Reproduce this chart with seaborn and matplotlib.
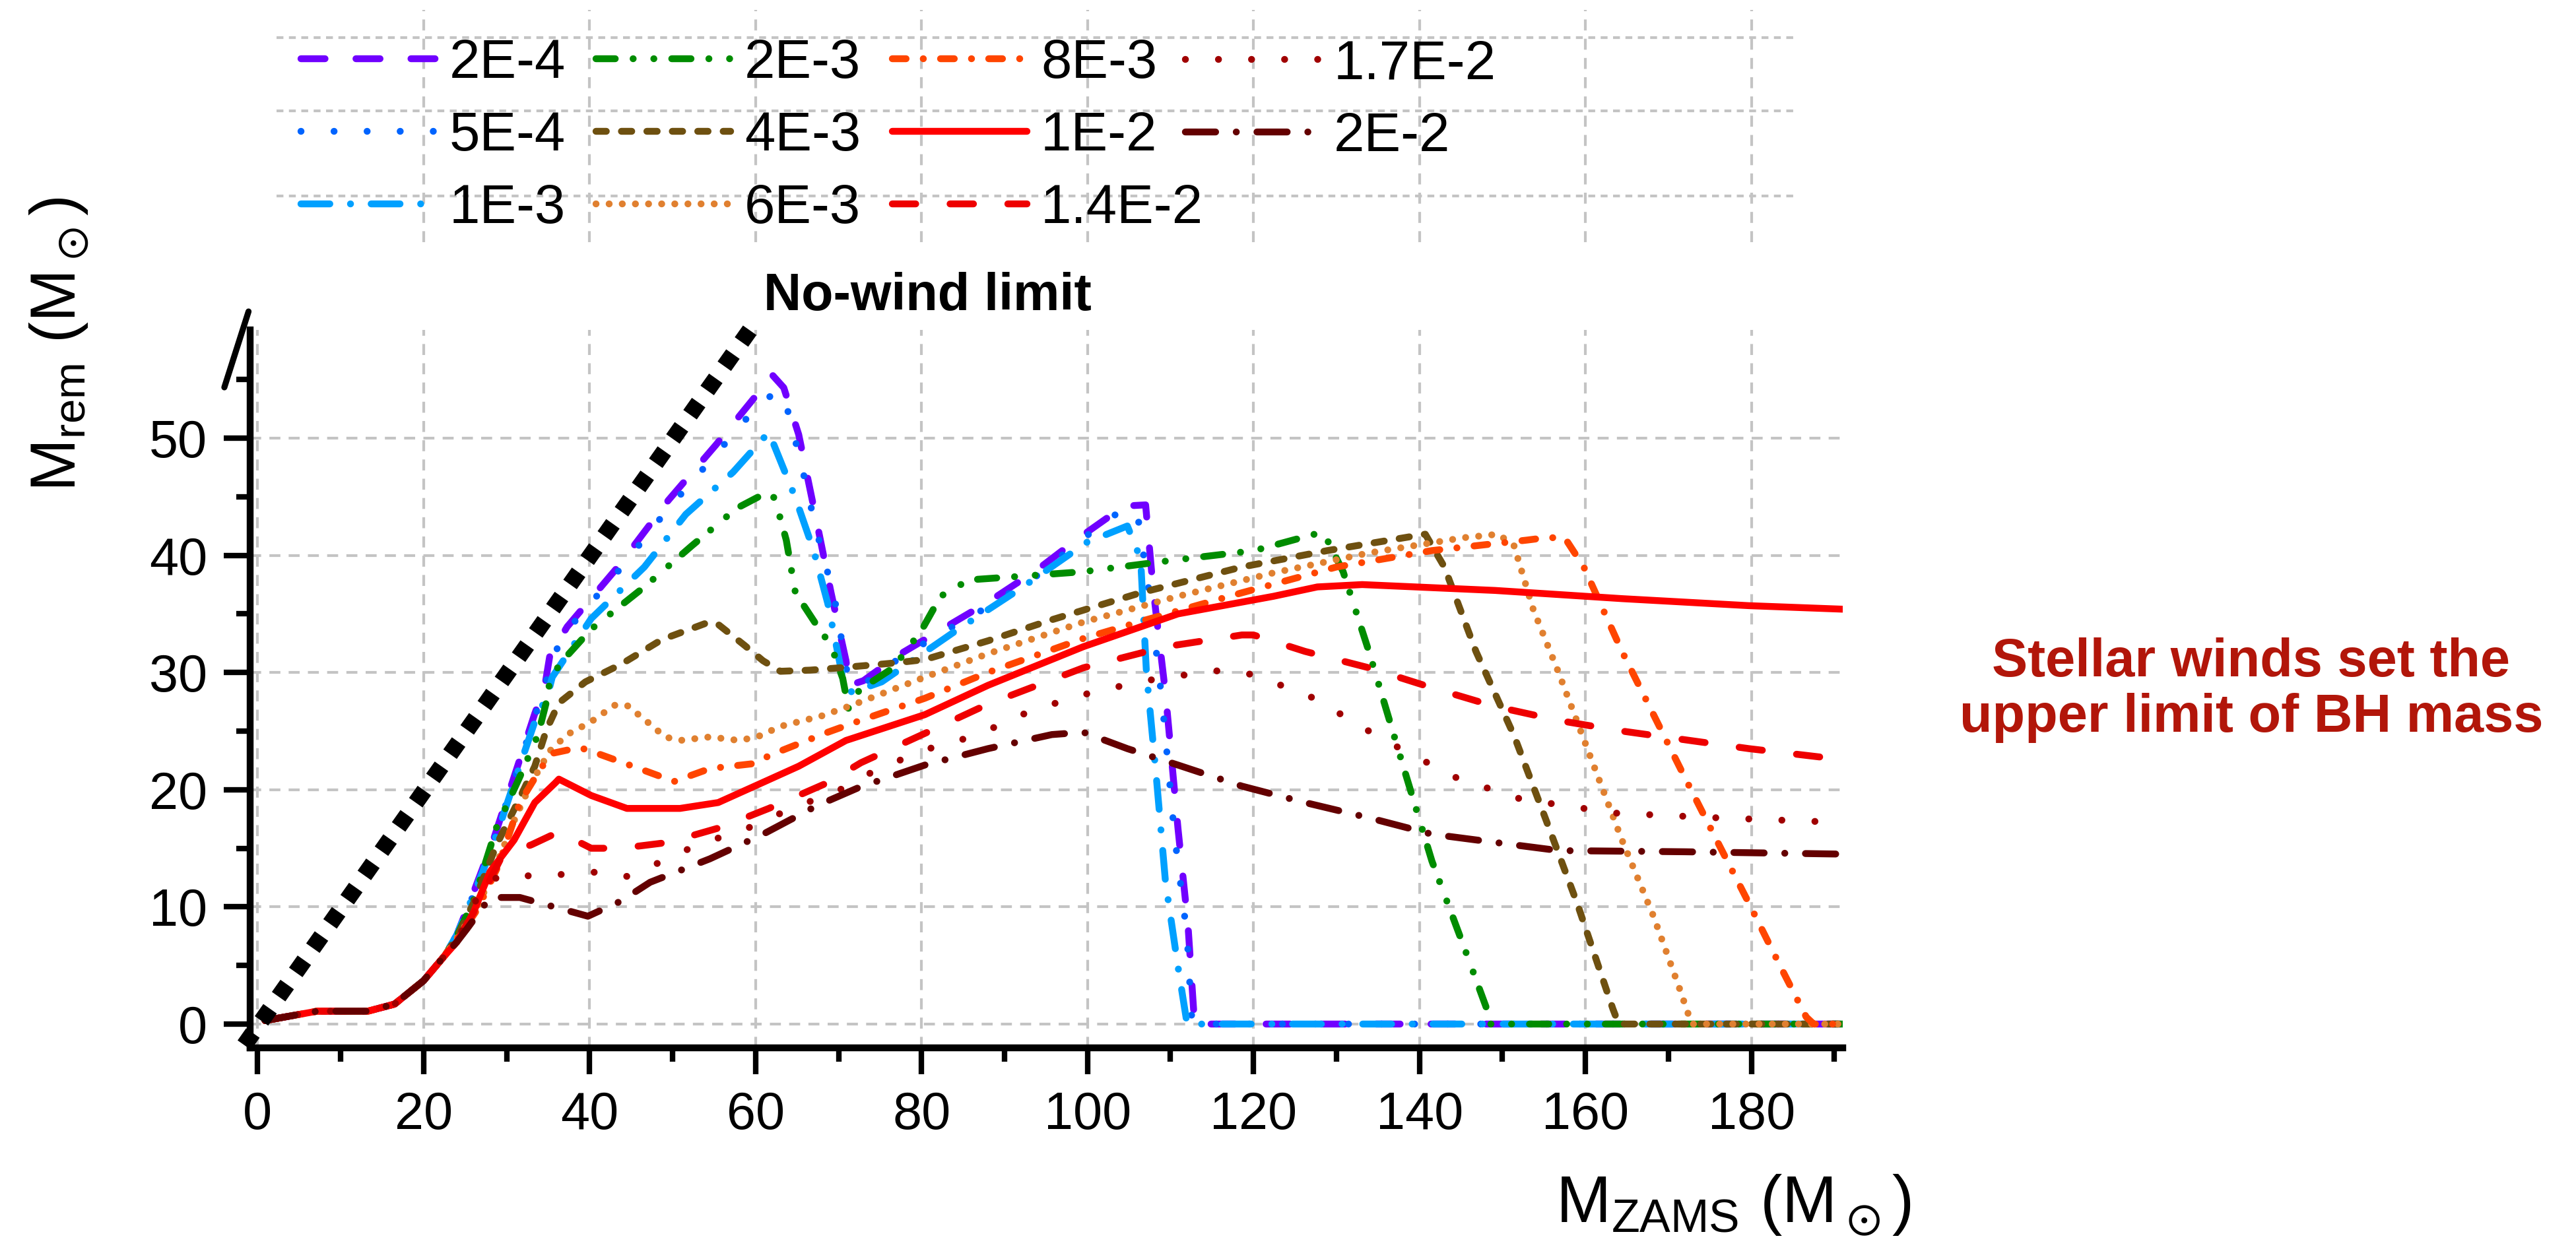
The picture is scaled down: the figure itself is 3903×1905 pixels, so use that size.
import matplotlib
matplotlib.use("Agg")
import matplotlib.pyplot as plt
from matplotlib.ticker import MultipleLocator
from matplotlib.lines import Line2D
import numpy as np
import pandas as pd
import seaborn as sns

sns.set_theme(style="white")
plt.rcParams["font.family"] = ["Liberation Sans", "DejaVu Sans"]
plt.rcParams["mathtext.default"] = "regular"

# metallicity labels, legend order (column-major)
z_labels = ["2E-4", "5E-4", "1E-3", "2E-3", "4E-3", "6E-3",
            "8E-3", "1E-2", "1.4E-2", "1.7E-2", "2E-2"]

colors = ["#7000ff", "#0064ff", "#00a0ff", "#008c00", "#6e5010", "#e08030",
          "#ff4500", "#ff0000", "#ee0000", "#a00000", "#640000"]

dash_styles = [(3.5, 4.5), (0.01, 4.8), (4.2, 3.0, 0.01, 3.0),
               (2.8, 2.6, 0.01, 3.0, 0.01, 2.6), (1.5, 2.2), (0.01, 1.9),
               (2.0, 2.5, 0.01, 2.5), "", (3.4, 5.0), (0.01, 4.8),
               (4.4, 3.0, 0.01, 3.0)]

# shared low-mass part of every track
head_x = [0.9, 7.2, 13.3, 16.5, 20.0, 22.5]
head_y = [0.3, 1.1, 1.1, 1.7, 3.7, 5.8]

x_2e4 = [24, 26, 28.4, 31, 33.4, 34.6, 35.2, 37.3, 43.4, 49.5, 55.2, 59.8, 62, 63.4, 65.2,
         67.3, 69.1, 70.9, 71.3, 73, 77.5, 82.5, 88, 94, 99, 104.4, 107, 107.9, 109.4,
         110.9, 112.1, 112.9, 191]
y_2e4 = [7.6, 11.2, 15.7, 21.3, 26.5, 28.8, 31.4, 33.9, 39.0, 44.7, 49.4, 53.4, 55.4, 54.3,
         50.3, 43.1, 36.8, 31.0, 28.9, 29.3, 31.6, 33.7, 36.0, 38.8, 41.5, 44.2, 44.3, 37.2,
         28.2, 16.7, 8.5, 0.0, 0.0]

x_5e4 = [24, 26, 28.4, 31, 33.4, 34.6, 35.3, 37.3, 43.4, 49.5, 55.2, 59.8, 62.5, 63.5, 65.5,
         67.3, 69.5, 71.2, 73, 77.5, 82.5, 88, 94, 99, 104, 106, 107.5, 109, 110.5, 112,
         112.6, 191]
y_5e4 = [7.6, 11.0, 15.5, 21.0, 26.2, 28.6, 31.0, 33.6, 38.6, 44.0, 48.6, 52.4, 54.0, 53.4,
         47.8, 42.2, 36.4, 29.3, 29.0, 31.3, 33.4, 35.6, 38.3, 41.2, 43.8, 43.6, 36.5, 27.5,
         16.0, 7.5, 0.0, 0.0]

x_1e3 = [24, 26, 28.4, 31, 33.4, 35.0, 35.5, 40.2, 46.6, 51.6, 57.3, 61.6, 64.8, 67, 68.7,
         70.5, 71.6, 75.2, 83.8, 92, 99.9, 104.8, 106.4, 107.1, 108.3, 109.4, 110.9, 112, 191]
y_1e3 = [7.6, 11.0, 15.3, 20.8, 25.8, 28.2, 29.6, 34.6, 39.0, 43.5, 47.1, 50.5, 44.9, 40.4,
         35.9, 29.6, 28.3, 29.2, 33.4, 37.2, 41.1, 42.5, 39.7, 30.0, 21.0, 12.1, 4.9, 0.0, 0.0]

x_2e3 = [24, 26, 28.8, 31.6, 33.8, 34.8, 35.3, 37, 40.2, 46.6, 52.3, 57.7, 61.2, 62.3, 63.7,
         64.8, 67.3, 69.1, 70.5, 71.2, 72.5, 76.6, 80, 82.3, 85.7, 91.8, 99.5, 109.4, 120.1,
         128.4, 130.8, 133.9, 137.7, 141.5, 145.3, 148, 148.6, 191]
y_2e3 = [7.5, 10.5, 16.8, 21.1, 24.7, 27.5, 29.6, 31.2, 33.7, 37.3, 40.8, 44.0, 45.3, 44.9,
         41.3, 36.8, 34.1, 32.3, 29.5, 26.9, 28.5, 30.4, 33.6, 36.5, 37.9, 38.2, 38.6, 39.5,
         40.4, 42.0, 38.6, 31.8, 22.8, 13.9, 6.7, 1.5, 0.0, 0.0]

x_4e3 = [24, 26, 28.8, 31.6, 33.4, 34.8, 36.3, 39.5, 43.8, 48.7, 54.4, 55.5, 58.7, 60.9, 63,
         66.6, 70.2, 76.6, 80.4, 88, 95.7, 106.4, 118.6, 128.9, 140.7, 143, 146.8, 151.4,
         155.2, 159, 163.3, 164, 191]
y_4e3 = [7.4, 10.3, 15.3, 19.3, 22.0, 25.1, 27.4, 29.2, 30.7, 32.8, 34.3, 34.1, 32.3, 31.0,
         30.1, 30.2, 30.4, 30.8, 31.1, 32.7, 34.5, 36.8, 39.0, 40.4, 41.8, 39.0, 31.8, 24.6,
         17.5, 10.3, 1.3, 0.0, 0.0]

x_6e3 = [24, 26.5, 29, 31, 33, 35.2, 37.3, 40.2, 43, 44.5, 46.6, 49.1, 50.9, 54.5, 58, 60.2,
         63, 68, 71.6, 80.4, 88, 99.5, 110.9, 122.4, 133.9, 145.3, 149.5, 151.4, 153.7,
         156.7, 160.6, 164.4, 168.2, 171.3, 172.8, 191]
y_6e3 = [7.3, 10.0, 14.0, 17.5, 20.6, 23.3, 24.7, 25.8, 27.2, 27.2, 26.0, 24.5, 24.2, 24.5,
         24.2, 24.5, 25.4, 26.3, 27.2, 29.6, 31.6, 34.3, 36.5, 38.5, 40.2, 41.5, 41.8, 40.8,
         35.4, 30.1, 22.8, 15.7, 9.2, 3.1, 0.0, 0.0]

x_8e3 = [24, 26.5, 29, 31.6, 34.1, 35.5, 38.8, 40.9, 45.2, 50.2, 54.5, 59.5, 62.3, 68.7, 73,
         80.4, 88, 99.5, 107.1, 118.6, 130, 141.5, 153, 155.2, 157.5, 159.8, 164.4, 168.2,
         172, 175.8, 179.7, 183.5, 186.6, 187.5, 191]
y_8e3 = [7.2, 9.8, 13.5, 18.9, 21.8, 23.1, 23.6, 23.1, 22.0, 20.7, 21.8, 22.2, 23.1, 24.9,
         26.0, 27.8, 30.0, 32.9, 34.5, 36.8, 39.0, 40.4, 41.3, 41.5, 41.5, 39.0, 31.8, 26.4,
         21.0, 15.7, 10.3, 4.9, 0.6, 0.0, 0.0]

x_1e2 = [24, 26, 28, 30.9, 33.4, 35.9, 36.3, 40.2, 44.5, 50.9, 55.5, 60.2, 65.2, 70.9, 80.4,
         88, 99.5, 110.9, 122.4, 127.7, 133.1, 149.1, 164.4, 179.7, 191]
y_1e2 = [7.0, 9.5, 13.0, 15.7, 18.9, 20.6, 20.9, 19.5, 18.4, 18.4, 18.9, 20.4, 22.0, 24.2,
         26.4, 28.9, 32.2, 35.0, 36.5, 37.3, 37.5, 37.0, 36.3, 35.7, 35.4]

x_14e2 = [24, 26, 29.5, 33, 36.3, 38.8, 40.2, 43.8, 49.5, 55.9, 61.6, 68.7, 72.7, 80.4, 88,
          99.5, 109.4, 118.6, 120, 126.2, 133.9, 141.5, 149.1, 156.8, 164.4, 179.7, 188.1, 191]
y_14e2 = [7.0, 9.5, 14.4, 15.3, 16.4, 15.5, 15.0, 15.0, 15.5, 16.8, 18.4, 20.6, 22.3, 24.8,
          27.3, 30.4, 32.2, 33.2, 33.2, 31.8, 30.4, 28.7, 27.1, 25.9, 25.0, 23.5, 22.8, 22.6]

x_17e2 = [24, 27.3, 30.2, 33.4, 37.3, 41.6, 44.5, 48.8, 53, 58.7, 63.7, 70.2, 74.3, 80.4,
          86.5, 93.4, 101, 108.6, 116.3, 120.1, 127.3, 133.9, 137.7, 144.5, 152.2, 163.6,
          175.8, 187.3, 191]
y_17e2 = [7.0, 12.1, 12.8, 12.6, 12.8, 13.0, 12.6, 13.9, 15.3, 16.6, 18.2, 20.0, 21.6, 23.4,
          24.6, 26.8, 28.4, 29.5, 30.2, 29.8, 27.8, 25.0, 23.5, 21.0, 19.2, 18.0, 17.6, 17.3,
          17.2]

x_2e2 = [24, 25.2, 28, 31.6, 35.2, 39.8, 43.8, 47.3, 54.5, 60.9, 67.3, 72.5, 80.4, 88, 95.7,
         99.5, 104.8, 110.9, 118.6, 126.2, 133.9, 141.5, 149.1, 156.8, 172, 191]
y_2e2 = [7.0, 8.1, 10.8, 10.8, 10.1, 9.2, 10.5, 12.1, 14.1, 16.2, 18.6, 20.2, 22.1, 23.5,
         24.7, 24.9, 23.5, 22.1, 20.3, 18.9, 17.6, 16.2, 15.5, 14.8, 14.7, 14.5]

nowind_x = [-1.6, 59.3]
nowind_y = [-1.8, 59.2]

tracks = [(x_2e4, y_2e4), (x_5e4, y_5e4), (x_1e3, y_1e3), (x_2e3, y_2e3), (x_4e3, y_4e3),
          (x_6e3, y_6e3), (x_8e3, y_8e3), (x_1e2, y_1e2), (x_14e2, y_14e2),
          (x_17e2, y_17e2), (x_2e2, y_2e2)]

frames = []
for lab, (xs, ys) in zip(z_labels, tracks):
    frames.append(pd.DataFrame({"M_ZAMS": head_x + xs, "M_rem": head_y + ys, "Z": lab}))
df = pd.concat(frames, ignore_index=True)

W, H = 3903, 1905
fig = plt.figure(figsize=(W / 300, H / 300), dpi=300)
ax = fig.add_axes([379 / W, 1 - 1588 / H, (2792 - 379) / W, (1588 - 500) / H])

sns.lineplot(data=df, x="M_ZAMS", y="M_rem", hue="Z", style="Z",
             hue_order=z_labels, style_order=z_labels,
             palette=dict(zip(z_labels, colors)),
             dashes=dict(zip(z_labels, dash_styles)),
             sort=False, estimator=None, linewidth=2.5, legend=False,
             dash_capstyle="round", solid_capstyle="round", ax=ax)
track_lines = list(ax.lines[:len(z_labels)])

ax.plot(nowind_x, nowind_y, color="black", lw=6, ls=(0, (0.9, 0.9)),
        dash_capstyle="butt", clip_on=False, zorder=5)

ax.set_xlim(-0.9, 191.0)
ax.set_ylim(-2.03, 59.23)
ax.xaxis.set_major_locator(MultipleLocator(20))
ax.xaxis.set_minor_locator(MultipleLocator(10))
ax.yaxis.set_major_locator(MultipleLocator(10))
ax.yaxis.set_minor_locator(MultipleLocator(5))
ax.set_xlabel("")
ax.set_ylabel("")
for s in ["top", "right"]:
    ax.spines[s].set_visible(False)
for s in ["left", "bottom"]:
    ax.spines[s].set_linewidth(2.5)
    ax.spines[s].set_color("black")
ax.tick_params(which="major", direction="out", length=9.5, width=2.0, labelsize=19,
               color="black", labelcolor="black", pad=6, bottom=True, left=True)
ax.tick_params(which="minor", direction="out", length=5, width=2.0, color="black",
               bottom=True, left=True)
ax.grid(True, which="major", color="#c4c4c4", lw=1.0, ls=(0, (4, 3)))
ax.set_axisbelow(True)

# axis-break mark at the top of the y axis
ax.add_line(Line2D([-0.0162, -0.001], [0.920, 1.0257], transform=ax.transAxes,
                   color="black", lw=2.2, clip_on=False))

ax.text(61.0, 60.9, "No-wind limit", fontsize=19, fontweight="bold", color="black",
        clip_on=False, va="baseline", ha="left")

fig.text(0.023, 0.726, r"M$_{rem}$ (M$_\odot$)", rotation=90, fontsize=23,
         ha="center", va="center", color="black")
fig.text(0.673, 1 - 1852 / H, r"M$_{ZAMS}$ (M$_\odot$)", fontsize=24,
         ha="center", va="baseline", color="black")

fig.text(3411 / W, 1 - 1046 / H, "Stellar winds set the\nupper limit of BH mass",
         fontsize=19.5, fontweight="bold", color="#b2160a", ha="center", va="center",
         linespacing=1.15)

# legend panel with its own grid
lax = fig.add_axes([379 / W, 1 - 367 / H, (2792 - 379) / W, 352 / H])
lax.set_xlim(ax.get_xlim())
lax.set_ylim(0, 1)
lax.axis("off")
for xv in range(20, 181, 20):
    lax.axvline(xv, color="#c4c4c4", lw=1.0, ls=(0, (4, 3)))
for yv in [0.881, 0.565, 0.199]:
    lax.plot([2.3, 185], [yv, yv], color="#c4c4c4", lw=1.0, ls=(0, (2.5, 2)))

col_x = [456, 903, 1352, 1796]
for c in range(4):
    idx = list(range(3 * c, min(3 * c + 3, len(z_labels))))
    yc = 206 if len(idx) == 3 else 152
    leg = fig.legend([track_lines[i] for i in idx], [z_labels[i] for i in idx],
                     loc="center left", bbox_to_anchor=(col_x[c] / W, 1 - yc / H),
                     bbox_transform=fig.transFigure, frameon=False, fontsize=20,
                     handlelength=2.45, handletextpad=0.25, labelspacing=0.38,
                     borderpad=0, borderaxespad=0)
    for t in leg.get_texts():
        t.set_color("black")

fig.savefig("out.png", dpi=300)
